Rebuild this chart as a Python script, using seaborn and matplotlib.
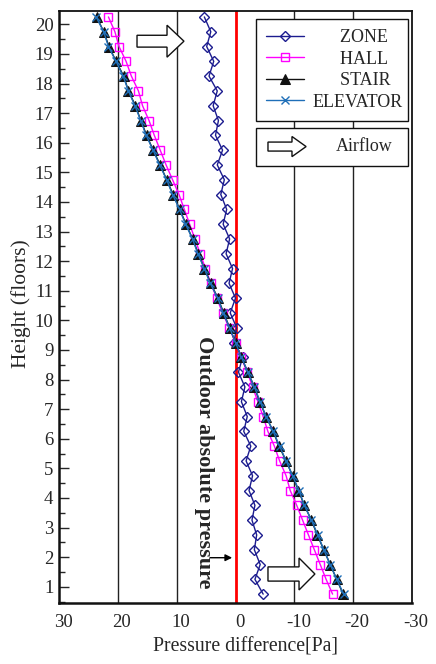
import numpy as np
import pandas as pd
import matplotlib
matplotlib.use("Agg")
import matplotlib.pyplot as plt
import matplotlib.transforms as mtransforms
import seaborn as sns
from matplotlib.patches import Polygon, Rectangle
from matplotlib.ticker import MultipleLocator

# ---------------- data ----------------
height = [20.25, 19.75, 19.25, 18.75, 18.25, 17.75, 17.25, 16.75, 16.25, 15.75,
          15.25, 14.75, 14.25, 13.75, 13.25, 12.75, 12.25, 11.75, 11.25, 10.75,
          10.25, 9.75, 9.25, 8.75, 8.25, 7.75, 7.25, 6.75, 6.25, 5.75,
          5.25, 4.75, 4.25, 3.75, 3.25, 2.75, 2.25, 1.75, 1.25, 0.75]

zone = [5.3, 4.2, 4.9, 3.7, 4.5, 3.1, 3.8, 2.9, 3.4, 2.2,
        3.1, 1.9, 2.5, 1.5, 2.1, 1.0, 1.6, 0.5, 1.1, 0.0,
        0.9, -0.2, 0.3, -1.2, -0.5, -1.6, -1.0, -2.0, -1.4, -2.6,
        -1.8, -2.9, -2.3, -3.3, -2.8, -3.6, -3.2, -4.2, -3.3, -4.7]

hall = [21.6, 20.5, 19.8, 18.6, 17.7, 16.5, 15.8, 14.7, 13.8, 12.8,
        11.8, 10.7, 9.6, 8.7, 7.8, 6.9, 6.0, 5.1, 4.2, 3.2,
        2.2, 1.1, 0.0, -0.95, -2.0, -2.9, -3.8, -4.7, -5.5, -6.6,
        -7.5, -8.6, -9.3, -10.4, -11.4, -12.4, -13.4, -14.4, -15.4, -16.5]

stair = [23.6, 22.4, 21.5, 20.3, 19.0, 18.2, 17.0, 16.1, 15.1, 14.0,
         12.8, 11.7, 10.6, 9.5, 8.4, 7.3, 6.3, 5.3, 4.2, 3.0,
         2.0, 1.0, 0.0, -1.0, -2.1, -3.2, -4.1, -5.2, -6.4, -7.4,
         -8.6, -9.7, -10.7, -11.7, -12.9, -13.9, -15.0, -16.1, -17.2, -18.3]

elevator = [23.7, 22.4, 21.6, 20.3, 19.1, 18.2, 17.1, 16.1, 15.2, 14.0,
            12.9, 11.7, 10.7, 9.5, 8.5, 7.3, 6.4, 5.3, 4.3, 3.0,
            2.1, 1.0, 0.0, -1.0, -2.1, -3.2, -4.2, -5.2, -6.4, -7.5,
            -8.6, -9.7, -10.8, -11.7, -12.9, -14.0, -15.0, -16.1, -17.2, -18.4]

series_names = ["ZONE", "HALL", "STAIR", "ELEVATOR"]
x_ticks = [30, 20, 10, 0, -10, -20, -30]
y_ticks = list(range(1, 21))

# ---------------- style ----------------
sns.set_style("white")
plt.rcParams["font.family"] = ["Liberation Serif", "DejaVu Serif"]

fig = plt.figure(figsize=(4.36, 6.64), dpi=100)
ax = fig.add_axes([59 / 436, 1 - 603 / 664, 353 / 436, 592 / 664])

# gridlines at +-10, +-20 and red zero line
for gx in [20, 10, -10, -20]:
    ax.axvline(gx, color="#222222", lw=1.0, zorder=0)
ax.axvline(0, color="#ff0000", lw=2.0, zorder=1)

styles = {
    "ZONE": dict(color="#1c1c8f", marker="D", markersize=5.0, markerfacecolor="none",
                 markeredgecolor="#1c1c8f", markeredgewidth=1.0, lw=1.0),
    "HALL": dict(color="#ff00ff", marker="s", markersize=6.3, markerfacecolor="none",
                 markeredgecolor="#ff00ff", markeredgewidth=1.0, lw=1.0),
    "STAIR": dict(color="#111111", marker="^", markersize=6.8, markerfacecolor="#111111",
                  markeredgecolor="#111111", lw=1.0),
    "ELEVATOR": dict(color="#1f6fb8", marker="x", markersize=6.3, markeredgecolor="#1f6fb8",
                     markeredgewidth=1.0, lw=1.0),
}
values = {"ZONE": zone, "HALL": hall, "STAIR": stair, "ELEVATOR": elevator}

handles = []
for name in series_names:
    df = pd.DataFrame({"p": values[name], "h": height})
    sns.lineplot(data=df, x="p", y="h", orient="y", sort=False, estimator=None,
                 ax=ax, label=name, zorder=3, **styles[name])
    handles.append(ax.get_lines()[-1])

ax.set_xlim(30, -30)
ax.set_ylim(0.45, 20.45)
ax.set_xticks(x_ticks)
ax.set_xticklabels([str(v) for v in x_ticks])
ax.set_yticks(y_ticks)
ax.yaxis.set_minor_locator(MultipleLocator(0.5))
ax.tick_params(axis="y", which="major", direction="in", length=7, width=1.0,
               left=True, right=False, labelsize=13.5, pad=4)
ax.tick_params(axis="y", which="minor", direction="in", length=4, width=1.0,
               left=True, right=False)
ax.tick_params(axis="x", which="both", length=0, labelsize=13.5, pad=8)

# x tick labels sit slightly right of their gridlines in the reference
offset = mtransforms.ScaledTranslation(4 / 100, 0, fig.dpi_scale_trans)
for lbl in ax.get_xticklabels():
    lbl.set_transform(lbl.get_transform() + offset)

for s in ax.spines.values():
    s.set_color("#111111")
    s.set_linewidth(1.3)
ax.spines["left"].set_linewidth(1.8)
ax.spines["bottom"].set_linewidth(1.8)

ax.set_xlabel("Pressure difference[Pa]", fontsize=14.2)
ax.xaxis.set_label_coords(0.527, -0.058)
ax.set_ylabel("Height (floors)", fontsize=15.5)
ax.yaxis.set_label_coords(-0.08, 0.505)

# Outdoor absolute pressure annotation
ax.text(5.3, 5.2, "Outdoor absolute pressure", rotation=270, ha="center", va="center",
        fontsize=16, fontweight="bold", zorder=4)
ax.annotate("", xy=(0.1, 1.98), xytext=(4.8, 1.98),
            arrowprops=dict(arrowstyle="-|>", color="black", lw=1.0, mutation_scale=10))

# legend
labels_padded = ["      ZONE", "      HALL", "      STAIR", "ELEVATOR"]
leg = ax.legend(handles, labels_padded, loc="upper left",
                bbox_to_anchor=(0.558, 0.986, 0.431, 0.0), mode="expand",
                borderaxespad=0, fontsize=13, frameon=True, fancybox=False,
                edgecolor="#111111", framealpha=1, handlelength=2.1,
                handletextpad=0.5, labelspacing=0.25, borderpad=0.55)
leg.get_frame().set_linewidth(1.0)


def block_arrow(x0, x1, xh, yc, bh, hh, **kw):
    pts = [(x0, yc - bh), (xh, yc - bh), (xh, yc - hh), (x1, yc),
           (xh, yc + hh), (xh, yc + bh), (x0, yc + bh)]
    return Polygon(pts, closed=True, transform=ax.transAxes, **kw)


arrow_kw = dict(facecolor="white", edgecolor="#111111", lw=1.0, zorder=5)
ax.add_patch(block_arrow(0.221, 0.354, 0.306, 0.949, 0.010, 0.027, **arrow_kw))
ax.add_patch(block_arrow(0.592, 0.725, 0.680, 0.049, 0.012, 0.027, **arrow_kw))

# Airflow box
ax.add_patch(Rectangle((0.558, 0.738), 0.431, 0.064, transform=ax.transAxes,
                       facecolor="white", edgecolor="#111111", lw=1.0, zorder=5))
ax.add_patch(block_arrow(0.592, 0.700, 0.660, 0.771, 0.0076, 0.017,
                         facecolor="white", edgecolor="#111111", lw=1.0, zorder=6))
ax.text(0.864, 0.771, "Airflow", transform=ax.transAxes, ha="center", va="center",
        fontsize=13, zorder=6)

fig.savefig("out.png", dpi=100)
